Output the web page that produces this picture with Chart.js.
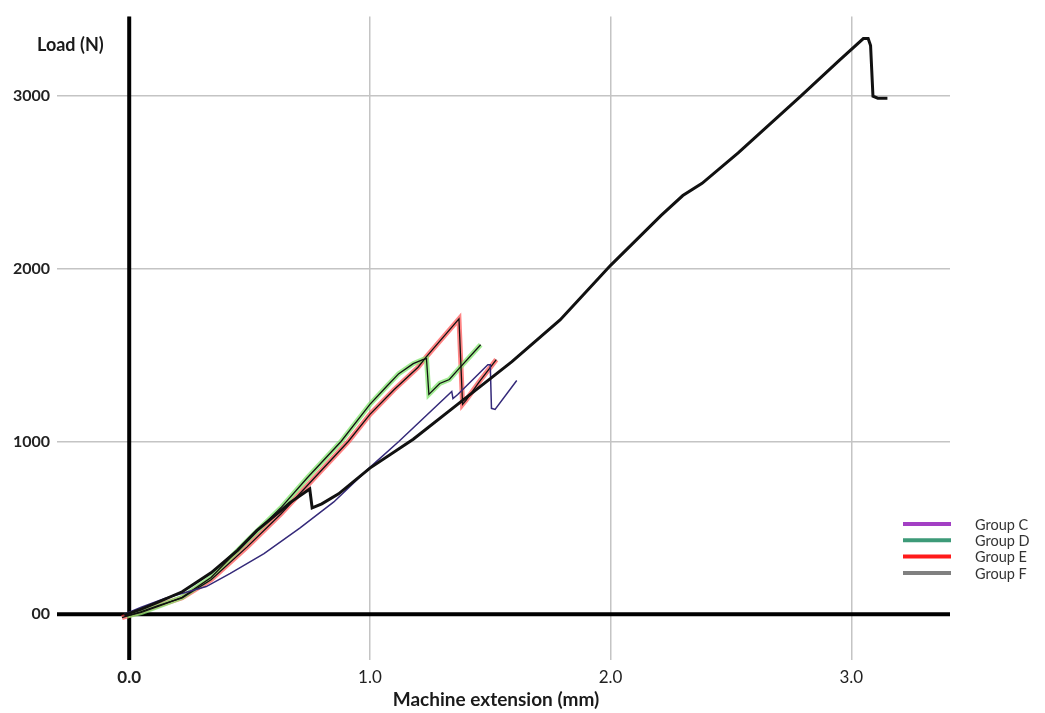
<!DOCTYPE html>
<html>
<head>
<meta charset="UTF-8">
<title>Load vs machine extension</title>
<script src="https://cdn.jsdelivr.net/npm/chart.js@4.4.1/dist/chart.umd.min.js"></script>
<style>
  html, body { margin: 0; padding: 0; background: #fff; }
  #wrap { width: 1045px; height: 713px; }
</style>
</head>
<body>
<div id="wrap"><canvas id="loadChart" width="1045" height="713"></canvas></div>
<script>
const xTickValues = [0, 1, 2, 3];
const xTickLabels = ['0.0', '1.0', '2.0', '3.0'];
const yTickValues = [0, 1000, 2000, 3000];
const yTickLabels = ['00', '1000', '2000', '3000'];
const groupNames = ['Group C', 'Group D', 'Group E', 'Group F'];
const legendColors = ['#a33fc4', '#3d9a78', '#ff1a1a', '#808080'];

// Group C (thin navy trace)
const groupCX = [-0.02, 0.05, 0.15, 0.32, 0.42, 0.56, 0.71, 0.85, 1.0, 1.12, 1.34, 1.345, 1.365, 1.49, 1.50, 1.505, 1.52, 1.61];
const groupCY = [0, 40, 92, 160, 236, 351, 500, 650, 850, 1000, 1290, 1249, 1272, 1445, 1445, 1192, 1186, 1353];

// Group D (green trace)
const groupDX = [-0.01, 0.05, 0.12, 0.22, 0.34, 0.49, 0.63, 0.74, 0.88, 1.0, 1.07, 1.12, 1.18, 1.22, 1.235, 1.245, 1.29, 1.33, 1.37, 1.46];
const groupDY = [-10, 10, 45, 98, 213, 426, 616, 790, 1000, 1215, 1320, 1393, 1451, 1474, 1480, 1273, 1336, 1359, 1422, 1560];

// Group E (red trace)
const groupEX = [-0.03, 0.05, 0.12, 0.22, 0.34, 0.49, 0.63, 0.77, 0.91, 1.0, 1.1, 1.2, 1.235, 1.37, 1.385, 1.40, 1.455, 1.525];
const groupEY = [-20, 15, 50, 95, 200, 390, 580, 790, 1000, 1157, 1300, 1430, 1491, 1710, 1215, 1240, 1347, 1474];

// Group F (thick black trace)
const groupFX = [-0.02, 0.05, 0.12, 0.22, 0.34, 0.45, 0.53, 0.63, 0.667, 0.75, 0.76, 0.80, 0.87, 1.0, 1.18, 1.38, 1.59, 1.79, 2.0, 2.21, 2.30, 2.38, 2.53, 2.79, 2.95, 3.05, 3.07, 3.08, 3.09, 3.11, 3.15];
const groupFY = [-5, 30, 70, 130, 240, 370, 484, 600, 645, 725, 616, 639, 697, 846, 1013, 1232, 1462, 1704, 2020, 2309, 2424, 2495, 2671, 3000, 3206, 3333, 3333, 3293, 2999, 2988, 2988];

function toPoints(xs, ys) {
  return xs.map((x, i) => ({ x: x, y: ys[i] }));
}

function trace(label, xs, ys, color, width, order) {
  return {
    label: label,
    data: toPoints(xs, ys),
    borderColor: color,
    borderWidth: width,
    pointRadius: 0,
    tension: 0,
    showLine: true,
    fill: false,
    order: order
  };
}

const fontFamily = 'Lato, "Open Sans", sans-serif';

// axis lines through zero, titles and the legend
const decorPlugin = {
  id: 'decor',
  beforeDatasetsDraw(chart) {
    const ctx = chart.ctx;
    const area = chart.chartArea;
    const x0 = chart.scales.x.getPixelForValue(0);
    const y0 = chart.scales.y.getPixelForValue(0);
    ctx.save();
    ctx.strokeStyle = '#000';
    ctx.lineWidth = 4;
    ctx.beginPath();
    ctx.moveTo(x0, area.top);
    ctx.lineTo(x0, area.bottom);
    ctx.moveTo(area.left, y0);
    ctx.lineTo(area.right, y0);
    ctx.stroke();
    ctx.restore();
  },
  afterDraw(chart) {
    const ctx = chart.ctx;
    ctx.save();
    ctx.fillStyle = '#1a1a1a';
    ctx.textBaseline = 'middle';
    ctx.font = 'bold 18px ' + fontFamily;
    ctx.textAlign = 'left';
    ctx.fillText('Load (N)', 37, 45);
    ctx.font = 'bold 19px ' + fontFamily;
    ctx.textAlign = 'center';
    ctx.fillText('Machine extension (mm)', 496, 700);

    ctx.font = '14.5px ' + fontFamily;
    ctx.textAlign = 'left';
    groupNames.forEach((name, i) => {
      const y = 524 + i * 16.3;
      ctx.strokeStyle = legendColors[i];
      ctx.lineWidth = 4;
      ctx.beginPath();
      ctx.moveTo(903, y);
      ctx.lineTo(951, y);
      ctx.stroke();
      ctx.fillStyle = '#333';
      ctx.fillText(name, 975, y + 1);
    });
    ctx.restore();
  }
};

const gridColor = '#c4c4c4';

new Chart(document.getElementById('loadChart'), {
  type: 'scatter',
  data: {
    datasets: [
      trace(groupNames[0], groupCX, groupCY, '#352a7a', 1.5, 2),
      trace(groupNames[1], groupDX, groupDY, 'rgba(130,230,110,0.75)', 5, 10),
      trace(groupNames[1], groupDX, groupDY, '#111', 1.3, 3),
      trace(groupNames[2], groupEX, groupEY, 'rgba(255,80,80,0.7)', 5, 11),
      trace(groupNames[2], groupEX, groupEY, '#111', 1.3, 4),
      trace(groupNames[3], groupFX, groupFY, '#111', 3, 1)
    ]
  },
  options: {
    responsive: false,
    animation: false,
    devicePixelRatio: 1,
    layout: { padding: { top: 13, right: 95, left: 0, bottom: 0 } },
    plugins: {
      legend: { display: false },
      tooltip: { enabled: false }
    },
    scales: {
      x: {
        type: 'linear',
        min: -0.30,
        max: 3.41,
        afterBuildTicks: s => { s.ticks = xTickValues.map(v => ({ value: v })); },
        afterFit: s => { s.height = 53; },
        border: { display: false },
        grid: { color: gridColor, lineWidth: 1.5, drawTicks: false },
        ticks: {
          autoSkip: false,
          maxRotation: 0,
          padding: 7,
          color: '#222',
          font: c => ({ family: fontFamily, size: 17, weight: c.tick && c.tick.value === 0 ? 'bold' : 'normal' }),
          callback: v => xTickLabels[xTickValues.indexOf(v)]
        }
      },
      y: {
        type: 'linear',
        min: -265,
        max: 3460,
        afterBuildTicks: s => { s.ticks = yTickValues.map(v => ({ value: v })); },
        afterFit: s => { s.width = 57; },
        border: { display: false },
        grid: { color: gridColor, lineWidth: 1.5, drawTicks: false },
        ticks: {
          autoSkip: false,
          padding: 7,
          color: '#222',
          font: { family: fontFamily, size: 16, weight: 'bold' },
          callback: v => yTickLabels[yTickValues.indexOf(v)]
        }
      }
    }
  },
  plugins: [decorPlugin]
});
</script>
</body>
</html>
